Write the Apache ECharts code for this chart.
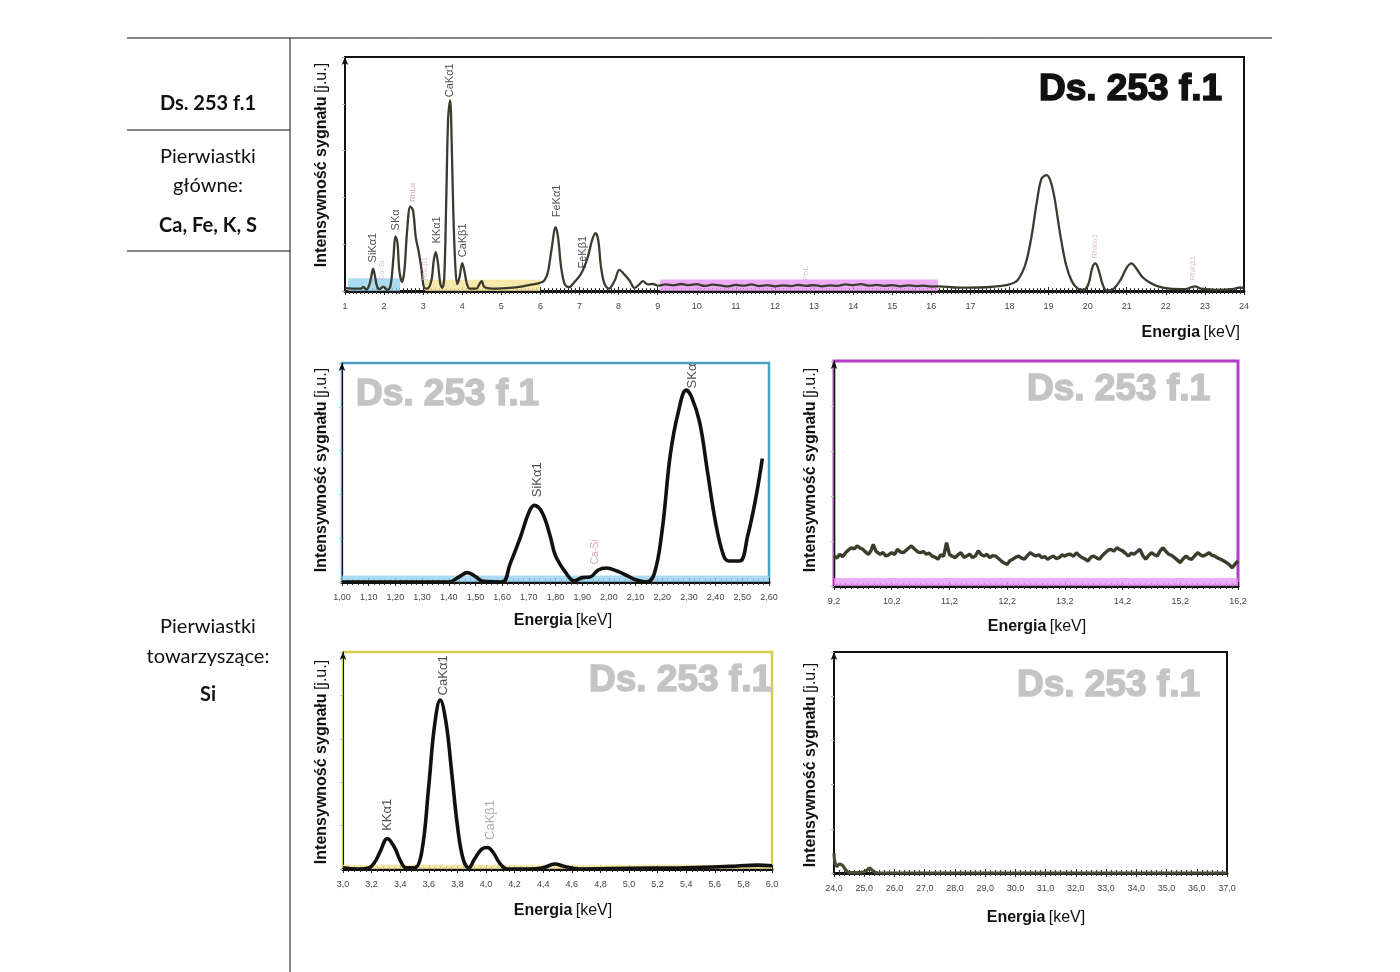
<!DOCTYPE html>
<html><head><meta charset="utf-8">
<script src="https://cdn.jsdelivr.net/npm/echarts@6/dist/echarts.min.js"></script>
<style>html,body{margin:0;padding:0;background:#fff}#c{width:1400px;height:972px}</style>
</head><body><div id="c"></div>
<script>
// ---------- DATA ----------
// Full spectrum 1-24 keV: [energy keV, intensity a.u.]
const topSpectrum = [
 [1.00,1.2],[1.20,1.0],[1.40,1.0],[1.47,1.7],[1.55,0.6],[1.62,2.5],[1.67,6.0],[1.72,9.5],[1.77,6.0],[1.82,2.0],
 [1.88,0.8],[1.98,1.9],[2.08,0.5],[2.15,1.5],[2.19,5.0],[2.24,14.4],[2.29,23.3],[2.34,20.9],[2.39,8.8],[2.46,3.8],
 [2.52,8.8],[2.59,25.9],[2.67,36.1],[2.74,34.4],[2.81,23],[2.88,17.3],[2.95,10.2],[3.02,1.6],[3.10,1.0],[3.21,4.5],
 [3.27,13],[3.32,16.6],[3.37,13],[3.44,3],[3.49,1.3],[3.54,5.9],[3.59,38.7],[3.64,74.3],[3.69,81.4],[3.73,62.9],
 [3.77,34.4],[3.82,11.6],[3.87,3],[3.93,5.9],[4.00,11.9],[4.06,8],[4.12,3],[4.19,1],[4.36,1],[4.44,3],
 [4.50,4.2],[4.57,1.6],[4.87,1],[5.21,1.3],[5.55,2],[5.80,2.8],[5.97,3.4],[6.10,4.5],[6.19,8],[6.28,17.3],
 [6.39,27.3],[6.45,23],[6.53,10.2],[6.62,3],[6.73,1.6],[6.87,3.8],[7.04,7.4],[7.21,14.4],[7.32,21.6],[7.41,24.7],
 [7.48,21.6],[7.55,10.2],[7.64,3],[7.75,1],[7.90,4.5],[8.02,9],[8.15,7],[8.28,4.5],[8.41,1.3],[8.54,3],
 [8.62,4.2],[8.75,2.8],[8.88,3],[9.00,2.3],[9.2,2.8],[9.4,2.4],[9.6,3.0],[9.8,2.5],[10.0,2.9],[10.2,2.2],
 [10.4,2.7],[10.6,2.4],[10.8,2.0],[11.0,2.6],[11.2,2.3],[11.4,2.8],[11.6,2.1],[11.8,2.5],[12.0,2.0],[12.2,2.4],
 [12.4,2.1],[12.6,2.6],[12.8,2.2],[13.0,2.5],[13.2,2.0],[13.4,2.4],[13.6,2.2],[13.8,2.8],[14.0,2.5],[14.2,2.9],
 [14.4,2.3],[14.6,2.6],[14.8,2.2],[15.0,2.5],[15.2,2.0],[15.4,2.4],[15.6,2.1],[15.8,2.3],[16.0,1.9],[16.2,2.0],
 [16.6,1.5],[17.0,1.4],[17.4,1.6],[17.8,2.2],[18.0,2.8],[18.2,4.5],[18.4,11],[18.55,22],[18.7,38],[18.82,48],
 [18.95,49.5],[19.05,47],[19.15,40],[19.3,24],[19.45,11],[19.6,4],[19.75,1],[19.9,0.5],[20.02,3],[20.12,10],
 [20.2,11.8],[20.28,9],[20.38,3],[20.48,0.3],[20.65,0.8],[20.85,5],[21.0,10],[21.12,11.8],[21.25,9.5],[21.4,6],
 [21.6,3.5],[21.8,2],[22.1,1],[22.5,0.8],[22.65,1.6],[22.75,2],[22.9,1],[23.3,0.5],[23.7,0.8],[23.9,1.5],[24.0,1.2]
];
// Zoom 1.00-2.60 keV
const siSpectrum = [
 [1.00,0],[1.40,0],[1.44,2.5],[1.47,4.3],[1.50,2.5],[1.53,0.3],[1.60,0],[1.63,8.3],[1.67,21],[1.70,31.7],
 [1.72,35],[1.75,31.7],[1.78,21],[1.80,12],[1.84,4],[1.87,0.5],[1.90,2],[1.93,2.3],[1.96,5.5],[1.99,6.4],
 [2.03,5],[2.07,2.8],[2.10,1],[2.14,0],[2.17,3.7],[2.20,24],[2.23,58],[2.26,77.5],[2.29,87.6],[2.31,84.4],
 [2.34,73],[2.37,50],[2.40,27],[2.43,12],[2.45,9.6],[2.49,9.6],[2.52,21],[2.55,38],[2.575,56.4]
];
// Zoom 9.2-16.2 keV
const midSpectrum = [
 [9.20,13.3],[9.25,12.4],[9.30,14.1],[9.35,13.0],[9.40,14.8],[9.45,16.0],[9.50,17.0],[9.55,16.5],[9.60,17.8],[9.65,16.9],
 [9.70,16.3],[9.75,15.0],[9.80,14.1],[9.85,16.2],[9.88,18.5],[9.93,15.4],[10.00,14.1],[10.05,14.9],[10.10,13.3],[10.15,13.9],
 [10.20,14.8],[10.25,14.0],[10.30,16.3],[10.35,15.1],[10.40,14.8],[10.45,15.9],[10.50,17.0],[10.54,17.8],[10.60,16.3],[10.65,15.2],
 [10.70,14.8],[10.75,15.3],[10.80,14.1],[10.85,14.6],[10.90,13.3],[10.95,12.8],[11.00,11.9],[11.05,13.8],[11.10,13.3],[11.15,19.3],
 [11.20,14.1],[11.25,13.2],[11.30,12.6],[11.35,13.9],[11.40,14.8],[11.45,12.7],[11.50,13.3],[11.55,14.2],[11.60,12.6],[11.65,13.4],
 [11.70,15.6],[11.75,14.0],[11.80,13.3],[11.85,14.1],[11.90,12.6],[11.95,13.5],[12.00,13.3],[12.05,12.2],[12.10,11.1],[12.15,10.2],
 [12.20,9.6],[12.25,11.3],[12.30,11.9],[12.35,12.8],[12.40,13.3],[12.45,12.4],[12.50,11.9],[12.55,13.5],[12.60,14.8],[12.65,13.9],
 [12.70,13.3],[12.75,13.9],[12.80,12.6],[12.85,13.1],[12.90,11.9],[12.95,12.7],[13.00,13.3],[13.05,12.2],[13.10,12.6],[13.15,13.8],
 [13.20,13.3],[13.25,14.0],[13.30,14.1],[13.35,13.2],[13.40,14.8],[13.45,13.5],[13.50,12.6],[13.55,12.0],[13.60,11.1],[13.65,12.8],
 [13.70,13.3],[13.75,12.5],[13.80,11.9],[13.85,13.6],[13.90,14.8],[13.95,15.9],[14.00,16.3],[14.05,15.5],[14.10,17.0],[14.15,16.2],
 [14.20,15.6],[14.25,14.5],[14.30,13.3],[14.35,14.6],[14.40,14.1],[14.45,15.2],[14.50,16.3],[14.55,13.6],[14.60,11.9],[14.65,13.5],
 [14.70,14.8],[14.75,13.9],[14.80,13.3],[14.85,15.6],[14.90,17.0],[14.95,15.4],[15.00,14.1],[15.05,13.6],[15.10,12.6],[15.15,11.5],
 [15.20,10.4],[15.25,12.1],[15.30,13.3],[15.35,12.2],[15.40,11.9],[15.45,13.4],[15.50,14.8],[15.55,13.8],[15.60,13.3],[15.65,14.0],
 [15.70,14.8],[15.75,13.6],[15.80,13.3],[15.85,12.4],[15.90,11.9],[15.95,11.2],[16.00,10.4],[16.05,9.5],[16.10,8.1],[16.15,9.8],[16.20,11.1]
];
// Zoom 3.0-6.0 keV
const kcaSpectrum = [
 [3.00,0.6],[3.10,0],[3.18,0.5],[3.22,3],[3.26,8],[3.31,14],[3.36,10],[3.40,4],[3.44,0.6],[3.50,0.5],
 [3.55,7.6],[3.60,38.4],[3.64,66],[3.68,77.8],[3.72,67.7],[3.76,44.6],[3.80,20],[3.84,4.6],[3.88,0.6],[3.92,4.6],
 [3.97,9.2],[4.01,9.9],[4.05,7.6],[4.10,2.3],[4.15,0],[4.30,0],[4.40,0.6],[4.48,2.3],[4.55,1.2],[4.65,0],
 [5.00,0.3],[5.40,0.6],[5.70,1.2],[5.90,1.8],[6.00,1.5]
];
// Zoom 24-37 keV
const highSpectrum = [
 [24.0,9],[24.03,5],[24.1,3],[24.18,4],[24.28,3.5],[24.38,1.5],[24.5,0.3],[24.8,0.2],[25.05,0.8],[25.17,2.2],
 [25.3,0.8],[25.45,0],[26.0,0],[37.0,0]
];
// Peak labels: [energy, intensity at label foot, text, kind]
const topPeakLabels = [
 [1.716,12.2,'SiKα1','main'],[1.95,4.5,'Ca-Si','faint'],[2.30,25.9,'SKα','main'],[2.73,38,'RhLα','pink'],
 [3.05,4.5,'RhLβ1','faint'],[3.35,20.3,'KKα1','main'],[3.69,82.8,'CaKα1','main'],[4.02,14.4,'CaKβ1','main'],
 [6.42,31.5,'FeKα1','main'],[7.09,9.6,'FeKβ1','main'],[12.8,4.5,'PbL','faint'],[20.19,13.9,'RhKα1','faint'],
 [22.69,4.5,'RhKβ1','faint']
];
const siPeakLabels = [[1.732,38.7,'SiKα1','main'],[2.313,88.4,'SKα','main'],[1.95,8.1,'Ca-Si','pink']];
const kcaPeakLabels = [[3.31,17.6,'KKα1','main'],[3.70,80,'CaKα1','main'],[4.03,13.4,'CaKβ1','grey']];
// Highlighted energy ranges: [from keV, to keV, height, region]
const topBands = [[1.08,2.41,5.5,'si'],[3.05,5.99,4.8,'kca'],[9.06,16.17,4.9,'mid']];
const siBands = [[1.0,2.6,3,'si']];
const midBands = [[9.2,16.2,3.6,'mid']];
const kcaBands = [[3.0,6.0,2,'kca']];
// Text
const sampleName = 'Ds. 253 f.1';
const yTitle = 'Intensywność sygnału';
const yUnit = '[j.u.]';
const xTitle = 'Energia';
const xUnit = '[keV]';
const mainLabel = 'Pierwiastki';
const mainLabel2 = 'główne:';
const mainElements = 'Ca, Fe, K, S';
const accLabel = 'Pierwiastki';
const accLabel2 = 'towarzyszące:';
const accElements = 'Si';

// ---------- STYLE ----------
const FONT = '"Liberation Sans", Arial, sans-serif';
const TFONT = 'Lato, "Open Sans", sans-serif';
const bandColors = {si:'rgba(150,210,240,0.8)', kca:'rgba(245,228,150,0.8)', mid:'rgba(230,150,245,0.8)'};
const labelColors = {main:'#222', faint:'#d8b0c2', pink:'#d08aa6', grey:'#999'};

const grids = [
 {left:345, top:57, width:899, height:234, border:'#111', bw:2},
 {left:342, top:363, width:427, height:219, border:'#4ba3c3', bw:2.5},
 {left:834, top:361, width:404, height:225, border:'#b43cc8', bw:3},
 {left:343, top:652, width:429, height:217, border:'#d8cc50', bw:2.5},
 {left:834, top:652, width:393, height:221, border:'#111', bw:2}
];
const axisCfg = [
 {min:1, max:24, interval:1, split:10, fmt:v=>String(Math.round(v))},
 {min:1, max:2.6, interval:0.1, split:5, fmt:v=>v.toFixed(2).replace('.',',')},
 {min:9.2, max:16.2, interval:1, split:10, fmt:v=>v.toFixed(1).replace('.',',')},
 {min:3, max:6, interval:0.2, split:5, fmt:v=>v.toFixed(1).replace('.',',')},
 {min:24, max:37, interval:1, split:6, fmt:v=>v.toFixed(1).replace('.',',')}
];

const xMain = axisCfg.map((a,i)=>({
 type:'value', gridIndex:i, min:a.min, max:a.max, interval:a.interval, position:'bottom',
 axisLine:{show:true,onZero:false,lineStyle:{color:'#111',width:3}},
 axisTick:{show:true,length:4,lineStyle:{color:'#222',width:1}},
 minorTick:{show:true,splitNumber:a.split,length:3,lineStyle:{color:'#333',width:1}},
 splitLine:{show:false}, minorSplitLine:{show:false},
 axisLabel:{show:true,fontSize:9,color:'#444',fontFamily:FONT,margin:11,formatter:a.fmt,showMinLabel:true,showMaxLabel:true}
}));
const xInner = axisCfg.map((a,i)=>({
 type:'value', gridIndex:i, min:a.min, max:a.max, interval:a.interval, position:'bottom',
 axisLine:{show:false},
 axisTick:{show:true,inside:true,length:4,lineStyle:{color:'#222',width:1}},
 minorTick:{show:true,splitNumber:a.split,length:3,lineStyle:{color:'#333',width:1}},
 splitLine:{show:false}, minorSplitLine:{show:false}, axisLabel:{show:false}
}));
const yAxes = grids.map((g,i)=>({
 type:'value', gridIndex:i, min:0, max:100, interval:20,
 axisLine:{show:true,onZero:false,symbol:['none','arrow'],symbolSize:[5,8],lineStyle:{color:'#111',width:1}},
 axisTick:{show:true,length:3,lineStyle:{color:'#bbb'}},
 axisLabel:{show:false}, splitLine:{show:false}
}));

function lineSeries(i, data, color, width, smooth, bands){
 return {
  type:'line', xAxisIndex:i, yAxisIndex:i, data, symbol:'none', smooth, z:3,
  lineStyle:{color, width}, silent:true,
  markArea:{silent:true, z:1, data: bands.map(b=>[
   {xAxis:b[0], yAxis:0, itemStyle:{color:bandColors[b[3]]}},
   {xAxis:b[1], yAxis:b[2]}
  ])}
 };
}
function labelSeries(i, labels, sizes){
 return {
  type:'scatter', xAxisIndex:i, yAxisIndex:i, symbolSize:0, silent:true, z:5,
  data: labels.map(l=>({value:[l[0],l[1]], name:l[2], label:{color:labelColors[l[3]], fontSize: l[3]==='main'||l[3]==='grey' ? sizes[0] : sizes[1]}})),
  label:{show:true, position:'inside', rotate:90, align:'left', verticalAlign:'middle', formatter:'{b}', fontFamily:FONT}
 };
}

const series = [
 lineSeries(0, topSpectrum, '#3b3b2e', 2.3, 0.35, topBands),
 lineSeries(1, siSpectrum, '#111', 3.6, 0.4, siBands),
 lineSeries(2, midSpectrum, '#3c3c2c', 3.4, false, midBands),
 lineSeries(3, kcaSpectrum, '#111', 3.6, 0.4, kcaBands),
 lineSeries(4, highSpectrum, '#4a4a35', 3.2, 0.4, []),
 labelSeries(0, topPeakLabels, [11, 8]),
 labelSeries(1, siPeakLabels, [13, 10]),
 labelSeries(3, kcaPeakLabels, [13, 10])
];

// ---------- GRAPHIC (layout text and table) ----------
const rich = {b:{fontWeight:'bold',fontSize:16,fontFamily:FONT,fill:'#111'}, n:{fontWeight:'normal',fontSize:16,fontFamily:FONT,fill:'#111'}};
function xName(x, y, align){
 return {type:'text', x, y, z:10, style:{text:'{b|'+xTitle+'} {n|'+xUnit+'}', rich, align, verticalAlign:'middle'}};
}
function yName(x, y){
 return {type:'text', x, y, rotation:Math.PI/2, z:10, style:{text:'{b|'+yTitle+'} {n|'+yUnit+'}', rich, align:'center', verticalAlign:'middle'}};
}
function title(x, y, align, color){
 return {type:'text', x, y, z:10, style:{text:sampleName, font:'bold 37px '+FONT, fill:color, stroke:color, lineWidth:1.6, align, verticalAlign:'middle'}};
}
function ttext(t, y, bold){
 return {type:'text', x:208, y, z:10, style:{text:t, font:(bold?'bold ':'')+'20px '+TFONT, fill:'#111', align:'center', verticalAlign:'middle'}};
}
function hline(x1,y1,x2,y2){
 return {type:'line', z:10, shape:{x1,y1,x2,y2}, style:{stroke:'#111', lineWidth:1}};
}
const graphic = [
 hline(127,38,1272,38), hline(290,38,290,972), hline(127,130,290,130), hline(127,251,290,251),
 ttext(sampleName,104,true), ttext(mainLabel,157,false), ttext(mainLabel2,186,false), ttext(mainElements,226,true),
 ttext(accLabel,627,false), ttext(accLabel2,657,false), ttext(accElements,695,true),
 title(1222,90,'right','#111'), title(356,395,'left','#c4c4c4'), title(1210,390,'right','#c4c4c4'),
 title(772,681,'right','#c4c4c4'), title(1200,686,'right','#c4c4c4'),
 yName(322,165), yName(322,470), yName(811,470), yName(322,762), yName(811,765),
 xName(1240,333,'right'), xName(563,621,'center'), xName(1037,627,'center'), xName(563,911,'center'), xName(1036,918,'center')
];

const chart = echarts.init(document.getElementById('c'), null, {renderer:'canvas'});
chart.setOption({
 animation:false,
 backgroundColor:'#fff',
 textStyle:{fontFamily:FONT},
 grid: grids.map(g=>({left:g.left, top:g.top, width:g.width, height:g.height, show:true, borderColor:g.border, borderWidth:g.bw, backgroundColor:'transparent', containLabel:false})),
 xAxis: xMain.concat(xInner),
 yAxis: yAxes,
 series,
 graphic
});
</script></body></html>
